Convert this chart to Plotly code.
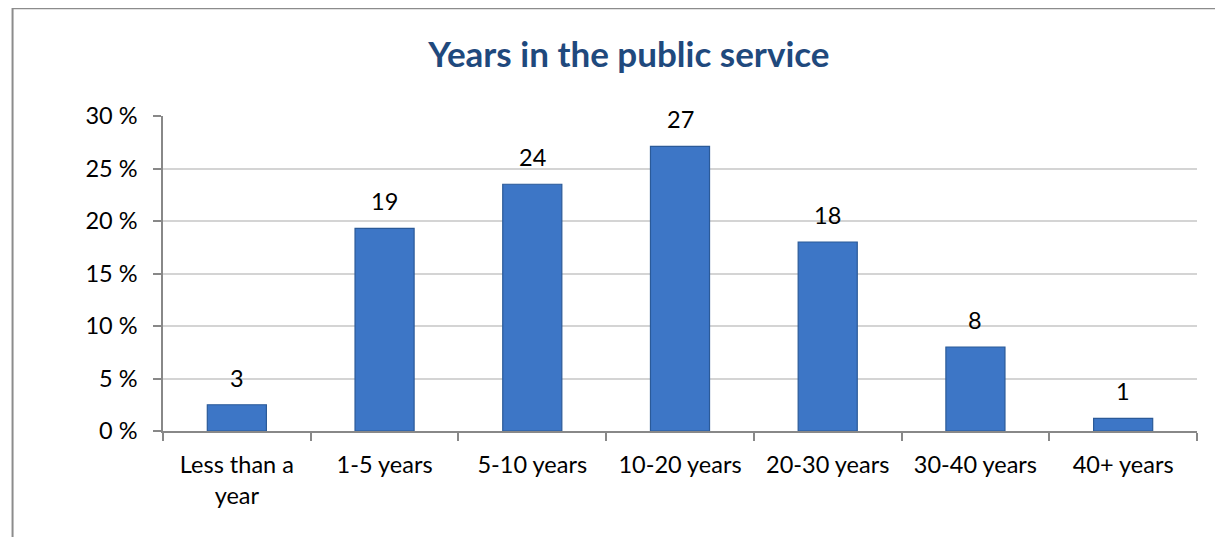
import plotly.graph_objects as go

categories = ["Less than a<br>year", "1-5 years", "5-10 years", "10-20 years",
              "20-30 years", "30-40 years", "40+ years"]
values = [2.5, 19.3, 23.5, 27.1, 18.0, 8.0, 1.2]
value_labels = ["3", "19", "24", "27", "18", "8", "1"]
y_ticks = [0, 5, 10, 15, 20, 25, 30]

FONT = "Lato"
FS = 23.5

fig = go.Figure()
fig.add_trace(go.Bar(
    x=categories, y=values, width=0.4,
    marker=dict(color="#3D76C6", line=dict(color="#2B5A98", width=1.2)),
    hoverinfo="skip",
))

for c, v, t in zip(categories, values, value_labels):
    fig.add_annotation(x=c, y=v, text=t, showarrow=False, yshift=27,
                       yanchor="middle", font=dict(family=FONT, size=FS, color="black"))

# outer chart border
fig.add_shape(type="rect", xref="paper", yref="paper",
              x0=-0.1455, x1=1.2, y0=-0.6, y1=1.342,
              line=dict(color="#8C8C8C", width=2), fillcolor="rgba(0,0,0,0)", layer="below")

fig.update_layout(
    width=1215, height=529,
    margin=dict(l=155, r=26, t=108, b=106),
    paper_bgcolor="white", plot_bgcolor="white",
    showlegend=False,
    title=dict(text="<b>Years in the public service</b>", x=0.511, xanchor="center",
               y=0.911, yanchor="middle", yref="container",
               font=dict(family=FONT, size=35, color="#1F497D")),
    font=dict(family=FONT, size=FS, color="black"),
    bargap=0.6,
)
fig.update_xaxes(
    type="category", showline=True, linecolor="#888888", linewidth=1.5,
    ticks="outside", tickson="boundaries", ticklen=8, tickcolor="#888888", tickwidth=1.5,
    showgrid=False, tickfont=dict(family=FONT, size=FS), fixedrange=True,
    ticklabelstandoff=12,
)
fig.update_yaxes(
    range=[0, 30], tickvals=y_ticks, ticktext=[f"{t} %" for t in y_ticks],
    showline=True, linecolor="#888888", linewidth=1.5,
    ticks="outside", ticklen=8, tickcolor="#888888", tickwidth=1.5,
    showgrid=True, gridcolor="#D4D4D4", gridwidth=1.5, zeroline=False,
    tickfont=dict(family=FONT, size=FS), fixedrange=True,
    ticklabelstandoff=11,
)

fig.write_html("out.html")
